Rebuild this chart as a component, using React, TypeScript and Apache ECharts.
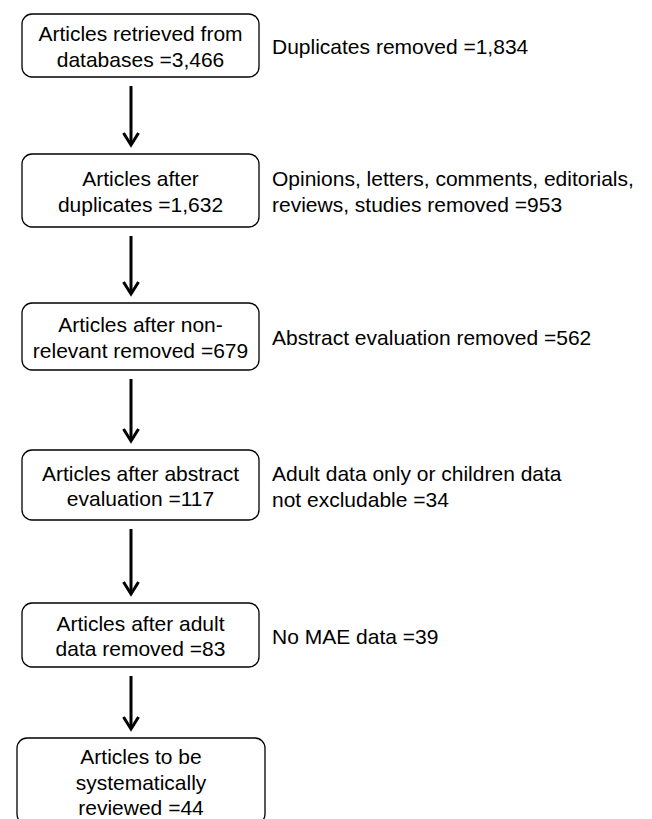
import React, { useEffect, useRef } from "react";
import * as echarts from "echarts";

// Flow step labels (main boxes)
const boxLabels: string[] = [
  "Articles retrieved from\ndatabases =3,466",
  "Articles after\nduplicates =1,632",
  "Articles after non-\nrelevant removed =679",
  "Articles after abstract\nevaluation =117",
  "Articles after adult\ndata removed =83",
  "Articles to be\nsystematically\nreviewed =44",
];

// Exclusion labels (right side)
const sideLabels: string[] = [
  "Duplicates removed =1,834",
  "Opinions, letters, comments, editorials,\nreviews, studies removed =953",
  "Abstract evaluation removed =562",
  "Adult data only or children data\nnot excludable =34",
  "No MAE data =39",
];

// Layout (pixels)
const boxTop = [14, 154, 303, 450, 603, 738];
const boxBottom = [77, 227, 370, 520, 667, 824];
const boxLeft = [22, 22, 22, 22, 22, 17];
const boxRight = [259, 259, 259, 259, 259, 265];
const arrowX = 131;
const sideX = 272;

const FONT = "'Liberation Sans', Arial, sans-serif";

export default function App() {
  const ref = useRef<HTMLDivElement>(null);
  useEffect(() => {
    if (!ref.current) return;
    const chart = echarts.init(ref.current, undefined, { renderer: "svg" });
    const elements: any[] = [];
    boxLabels.forEach((label, i) => {
      const x = boxLeft[i];
      const y = boxTop[i];
      const w = boxRight[i] - boxLeft[i];
      const h = boxBottom[i] - boxTop[i];
      elements.push({
        type: "rect",
        shape: { x, y, width: w, height: h, r: 10 },
        style: { fill: "#fff", stroke: "#000", lineWidth: 1.3 },
      });
      elements.push({
        type: "text",
        style: {
          text: label,
          x: x + w / 2,
          y: y + h / 2 + 1,
          align: "center",
          verticalAlign: "middle",
          fontSize: 21,
          lineHeight: 25.5,
          fontFamily: FONT,
          fill: "#000",
        },
      });
      if (i < boxLabels.length - 1) {
        const y1 = boxBottom[i] + 9;
        const y2 = boxTop[i + 1] - 9;
        elements.push({
          type: "line",
          shape: { x1: arrowX, y1, x2: arrowX, y2: y2 - 1 },
          style: { stroke: "#000", lineWidth: 3 },
        });
        elements.push({
          type: "polyline",
          shape: {
            points: [
              [arrowX - 7.5, y2 - 12],
              [arrowX, y2],
              [arrowX + 7.5, y2 - 12],
            ],
          },
          style: { stroke: "#000", lineWidth: 3, fill: "none" },
        });
      }
    });
    sideLabels.forEach((label, i) => {
      const cy = (boxTop[i] + boxBottom[i]) / 2;
      elements.push({
        type: "text",
        style: {
          text: label,
          x: sideX,
          y: cy + 1,
          align: "left",
          verticalAlign: "middle",
          fontSize: 21,
          lineHeight: 26,
          fontFamily: FONT,
          fill: "#000",
        },
      });
    });
    chart.setOption({
      animation: false,
      backgroundColor: "#fff",
      graphic: { elements },
    });
    return () => chart.dispose();
  }, []);
  return (
    <div
      ref={ref}
      style={{ position: "fixed", left: 0, top: 0, width: 652, height: 819, background: "#fff" }}
    />
  );
}
